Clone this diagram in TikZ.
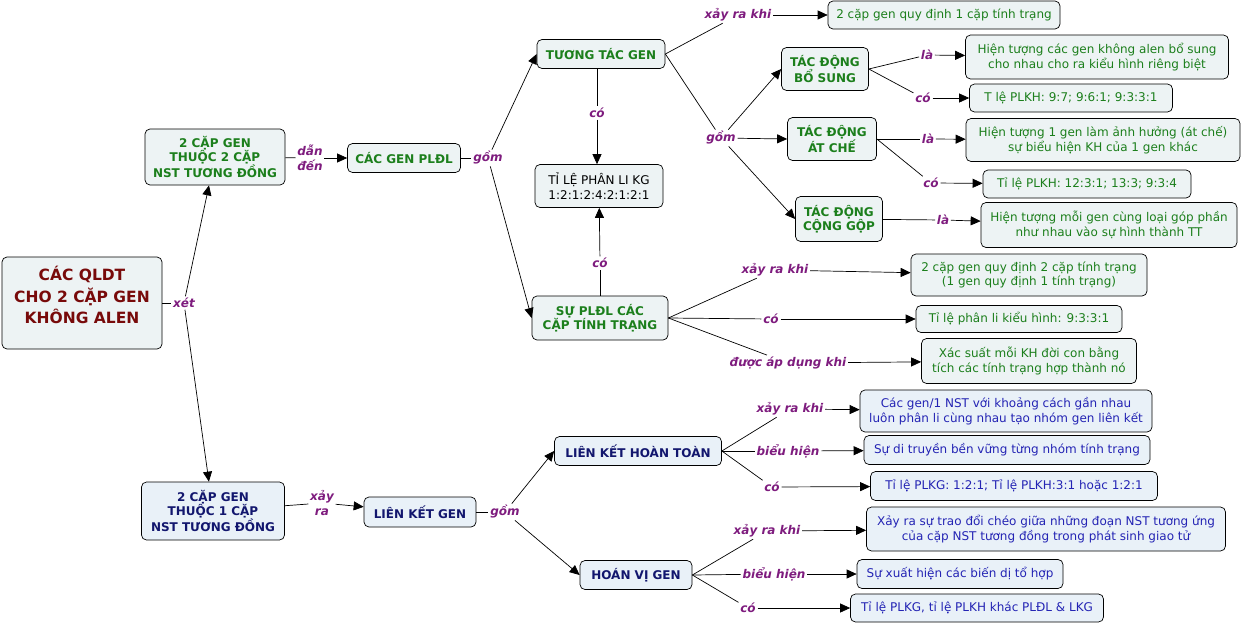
\documentclass[tikz,border=0pt]{standalone}
\usepackage{fontspec}
\setmainfont{DejaVu Sans}
\usepackage{xcolor}
\usetikzlibrary{arrows.meta}
\definecolor{BoxFill}{HTML}{EDF3F4}
\definecolor{BoxFillBlue}{HTML}{E9F1F8}
\definecolor{GenGreen}{HTML}{1C7F1C}
\definecolor{GenRed}{HTML}{780A0A}
\definecolor{GenNavy}{HTML}{12166E}
\definecolor{GenBlue}{HTML}{2424B4}
\definecolor{LinkPurple}{HTML}{7E1C7E}

\begin{document}
\begin{tikzpicture}[x=1pt,y=-1pt,line width=0.7pt,
    box/.style={draw,rounded corners=5pt,fill=BoxFill,align=center,inner sep=2pt,
      font=\fontsize{12}{14.5}\selectfont},
    sz/.style 2 args={minimum width=#1,minimum height=#2},
    greenhead/.style={box,text=GenGreen,font=\fontsize{12}{14.5}\selectfont\bfseries},
    greentext/.style={box,text=GenGreen},
    navyhead/.style={box,fill=BoxFillBlue,text=GenNavy,font=\fontsize{12}{14.5}\selectfont\bfseries},
    bluetext/.style={box,fill=BoxFillBlue,text=GenBlue},
    link/.style={text=LinkPurple,inner sep=1.5pt,align=center,
      font=\fontsize{12}{15}\selectfont\bfseries\itshape},
    >={Triangle[length=10pt,width=9pt]}]
    \useasboundingbox (0,0) rectangle (1241,624);

    \node[box,sz={160}{92},text depth=16pt,text=GenRed,font=\fontsize{15.5}{21.5}\selectfont\bfseries]
      (qldt) at (82,303) {CÁC QLDT\\CHO 2 CẶP GEN\\KHÔNG ALEN};
    \node[greenhead,sz={140}{56}] (haiNst) at (215,157) {2 CẶP GEN\\THUỘC 2 CẶP\\NST TƯƠNG ĐỒNG};
    \node[greenhead,sz={113}{29}] (pldl) at (404,158) {CÁC GEN PLĐL};
    \node[greenhead,sz={128}{29}] (tuongtac) at (601,54) {TƯƠNG TÁC GEN};
    \node[box,sz={128}{43}] (tileKG) at (599,186) {TỈ LỆ PHÂN LI KG\\1:2:1:2:4:2:1:2:1};
    \node[greenhead,sz={136}{44}] (suPldl) at (600,318) {SỰ PLĐL CÁC\\CẶP TÍNH TRẠNG};
    \node[greentext,sz={232}{28}] (ttKhi) at (944,15) {2 cặp gen quy định 1 cặp tính trạng};
    \node[greenhead,sz={87}{43}] (boSung) at (825,69) {TÁC ĐỘNG\\BỔ SUNG};
    \node[greentext,sz={263}{44}] (boSungLa) at (1097,57)
      {Hiện tượng các gen không alen bổ sung\\cho nhau cho ra kiểu hình riêng biệt};
    \node[greentext,sz={203}{28}] (boSungCo) at (1071,98) {T lệ PLKH: 9:7; 9:6:1; 9:3:3:1};
    \node[greenhead,sz={89}{43}] (atChe) at (832,139) {TÁC ĐỘNG\\ÁT CHẾ};
    \node[greentext,sz={274}{43}] (atCheLa) at (1103,140)
      {Hiện tượng 1 gen làm ảnh hưởng (át chế)\\sự biểu hiện KH của 1 gen khác};
    \node[greentext,sz={208}{28}] (atCheCo) at (1087,184) {Tỉ lệ PLKH: 12:3:1; 13:3; 9:3:4};
    \node[greenhead,sz={87}{45}] (congGop) at (839,219) {TÁC ĐỘNG\\CỘNG GỘP};
    \node[greentext,sz={256}{45}] (congGopLa) at (1109,225)
      {Hiện tượng mỗi gen cùng loại góp phần\\như nhau vào sự hình thành TT};
    \node[greentext,sz={236}{42}] (pldlKhi) at (1029,275)
      {2 cặp gen quy định 2 cặp tính trạng\\(1 gen quy định 1 tính trạng)};
    \node[greentext,sz={206}{27}] (pldlCo) at (1019,319) {Tỉ lệ phân li kiểu hình: 9:3:3:1};
    \node[greentext,sz={215}{45}] (pldlApDung) at (1029,361)
      {Xác suất mỗi KH đời con bằng\\tích các tính trạng hợp thành nó};

    \node[navyhead,sz={143}{58}] (motNst) at (213,511) {2 CẶP GEN\\THUỘC 1 CẶP\\NST TƯƠNG ĐỒNG};
    \node[navyhead,sz={112}{30}] (lienKet) at (420,512) {LIÊN KẾT GEN};
    \node[navyhead,sz={167}{29}] (hoanToan) at (638,451) {LIÊN KẾT HOÀN TOÀN};
    \node[navyhead,sz={112}{29}] (hoanVi) at (636,575) {HOÁN VỊ GEN};
    \node[bluetext,sz={292}{42}] (htKhi) at (1006,411)
      {Các gen/1 NST với khoảng cách gần nhau\\luôn phân li cùng nhau tạo nhóm gen liên kết};
    \node[bluetext,sz={286}{29}] (htBieu) at (1007,450) {Sự di truyền bền vững từng nhóm tính trạng};
    \node[bluetext,sz={287}{29}] (htCo) at (1014,486) {Tỉ lệ PLKG: 1:2:1; Tỉ lệ PLKH:3:1 hoặc 1:2:1};
    \node[bluetext,sz={359}{44}] (hvKhi) at (1046,529)
      {Xảy ra sự trao đổi chéo giữa những đoạn NST tương ứng\\của cặp NST tương đồng trong phát sinh giao tử};
    \node[bluetext,sz={206}{29}] (hvBieu) at (960,574) {Sự xuất hiện các biến dị tổ hợp};
    \node[bluetext,sz={253}{28}] (hvCo) at (977,608) {Tỉ lệ PLKG, tỉ lệ PLKH khác PLĐL \& LKG};

    \node[link] (xet) at (184,303) {xét};
    \node[link] (danDen) at (310,158) {dẫn\\đến};
    \node[link] (gomA) at (488,158) {gồm};
    \node[link] (coA) at (597,113) {có};
    \node[link] (coB) at (600,263) {có};
    \node[link] (xayraA) at (738,15) {xảy ra khi};
    \node[link] (gomB) at (721,138) {gồm};
    \node[link] (laA) at (927,55) {là};
    \node[link] (coC) at (923,98) {có};
    \node[link] (laB) at (928,139) {là};
    \node[link] (coD) at (931,183) {có};
    \node[link] (laC) at (943,220) {là};
    \node[link] (xayraB) at (775,270) {xảy ra khi};
    \node[link] (coE) at (771,319) {có};
    \node[link] (apDung) at (788,363) {được áp dụng khi};
    \node[link] (xayraC) at (322,503) {xảy\\ra};
    \node[link] (gomC) at (505,512) {gồm};
    \node[link] (xayraD) at (790,409) {xảy ra khi};
    \node[link] (bieuA) at (788,451) {biểu hiện};
    \node[link] (coF) at (772,487) {có};
    \node[link] (xayraE) at (767,531) {xảy ra khi};
    \node[link] (bieuB) at (774,574) {biểu hiện};
    \node[link] (coG) at (748,608) {có};

    \draw (qldt) -- (xet);
    \draw[->] (xet) -- (haiNst);
    \draw[->] (xet) -- (motNst);
    \draw (haiNst) -- (danDen);
    \draw[->] (danDen) -- (pldl);
    \draw (pldl) -- (gomA);
    \draw[->] (gomA) -- (tuongtac.west);
    \draw[->] (gomA) -- (suPldl.west);
    \draw (coA |- tuongtac.south) -- (coA);
    \draw[->] (coA) -- (coA |- tileKG.north);
    \draw (suPldl) -- (coB);
    \draw[->] (coB) -- (tileKG);
    \draw (tuongtac.east) -- (xayraA);
    \draw[->] (xayraA) -- (ttKhi);
    \draw (tuongtac.east) -- (gomB);
    \draw[->] (gomB) -- (boSung.west);
    \draw[->] (gomB) -- (atChe.west);
    \draw[->] (gomB) -- (congGop.west);
    \draw (boSung.east) -- (laA);
    \draw[->] (laA) -- (boSungLa);
    \draw (boSung.east) -- (coC);
    \draw[->] (coC) -- (boSungCo);
    \draw (atChe.east) -- (laB);
    \draw[->] (laB) -- (atCheLa);
    \draw (atChe.east) -- (coD);
    \draw[->] (coD) -- (atCheCo);
    \draw (congGop) -- (laC);
    \draw[->] (laC) -- (congGopLa);
    \draw (suPldl.east) -- (xayraB);
    \draw[->] (xayraB) -- (pldlKhi);
    \draw (suPldl.east) -- (coE);
    \draw[->] (coE) -- (pldlCo);
    \draw (suPldl.east) -- (apDung);
    \draw[->] (apDung) -- (pldlApDung);

    \draw (motNst) -- (xayraC);
    \draw[->] (xayraC) -- (lienKet);
    \draw (lienKet) -- (gomC);
    \draw[->] (gomC) -- (hoanToan.west);
    \draw[->] (gomC) -- (hoanVi.west);
    \draw (hoanToan.east) -- (xayraD);
    \draw[->] (xayraD) -- (htKhi);
    \draw (hoanToan.east) -- (bieuA);
    \draw[->] (bieuA) -- (htBieu);
    \draw (hoanToan.east) -- (coF);
    \draw[->] (coF) -- (htCo);
    \draw (hoanVi.east) -- (xayraE);
    \draw[->] (xayraE) -- (hvKhi);
    \draw (hoanVi.east) -- (bieuB);
    \draw[->] (bieuB) -- (hvBieu);
    \draw (hoanVi.east) -- (coG);
    \draw[->] (coG) -- (hvCo);
\end{tikzpicture}
\end{document}
